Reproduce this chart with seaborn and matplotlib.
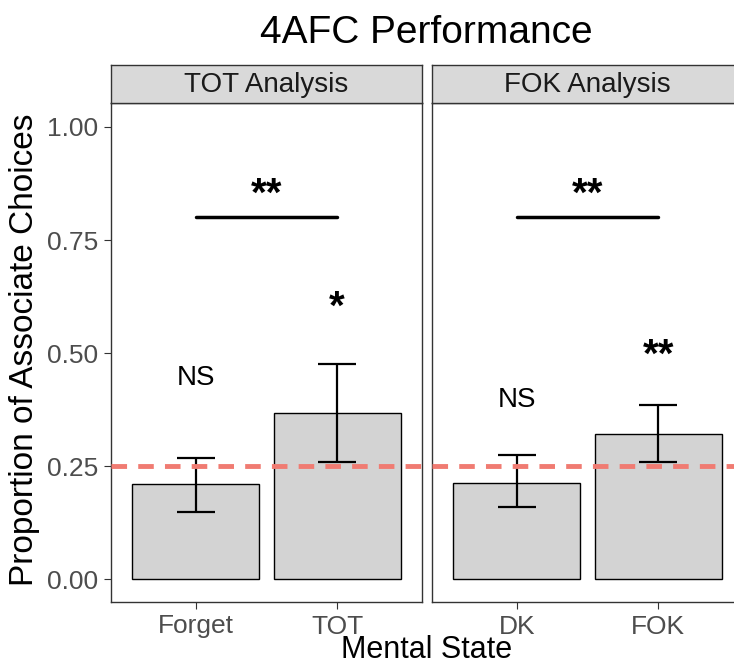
import matplotlib
matplotlib.use("Agg")
import matplotlib.pyplot as plt
import pandas as pd
import seaborn as sns

# ---------- data ----------
panels = ["TOT Analysis", "FOK Analysis"]
states = [["Forget", "TOT"], ["DK", "FOK"]]
means = [[0.210, 0.367], [0.214, 0.321]]
ci_low = [[0.150, 0.260], [0.159, 0.260]]
ci_high = [[0.269, 0.475], [0.274, 0.386]]
bar_labels = [["NS", "*"], ["NS", "**"]]
label_y = [[0.445, 0.60], [0.396, 0.495]]
pair_label = "**"
pair_y = 0.80
chance = 0.25
yticks = [0.00, 0.25, 0.50, 0.75, 1.00]

sns.set_style("white")
plt.rcParams["font.family"] = ["Liberation Sans", "DejaVu Sans"]
plt.rcParams["text.color"] = "black"

W, H = 734, 668
fig = plt.figure(figsize=(W / 100, H / 100), dpi=100)

panel_x = [(111, 422), (432, 743)]
top, bottom = 103, 602
strip_top = 65

for i, (x0, x1) in enumerate(panel_x):
    ax = fig.add_axes([x0 / W, 1 - bottom / H, (x1 - x0) / W, (bottom - top) / H])
    df = pd.DataFrame({"state": states[i], "mean": means[i]})
    sns.barplot(data=df, x="state", y="mean", color="#D3D3D3", width=0.9,
                edgecolor="black", linewidth=1.0, saturation=1, errorbar=None, ax=ax)
    lo = [m - l for m, l in zip(means[i], ci_low[i])]
    hi = [h - m for m, h in zip(means[i], ci_high[i])]
    ax.errorbar(range(2), means[i], yerr=[lo, hi], fmt="none", ecolor="black",
                elinewidth=1.6, capsize=14, capthick=1.6, zorder=4)
    ax.axhline(chance, color="#F07B72", lw=3.5, ls=(0, (3.2, 2.3)), zorder=5)
    for j in range(2):
        star = "*" in bar_labels[i][j]
        ax.text(j, label_y[i][j], bar_labels[i][j], ha="center", va="center",
                fontsize=29 if star else 20, fontweight="bold" if star else "normal")
    ax.plot([0, 1], [pair_y, pair_y], color="black", lw=2.5)
    ax.text(0.5, pair_y + 0.05, pair_label, ha="center", va="center",
            fontsize=29, fontweight="bold")
    ax.set_xlim(-0.6, 1.6)
    ax.set_ylim(-0.05, 1.053)
    ax.set_xlabel("")
    ax.set_ylabel("")
    ax.tick_params(axis="both", length=5, width=0.8, color="#333333", pad=4,
                   labelsize=19, labelcolor="#4D4D4D", bottom=True, left=(i == 0))
    ax.set_yticks(yticks)
    if i == 0:
        ax.set_yticklabels([f"{t:.2f}" for t in yticks])
    else:
        ax.set_yticklabels([])
    for s in ax.spines.values():
        s.set_color("#333333")
        s.set_linewidth(1.0)

    # strip
    sax = fig.add_axes([x0 / W, 1 - top / H, (x1 - x0) / W, (top - strip_top) / H])
    sax.set_facecolor("#D9D9D9")
    sax.set_xticks([])
    sax.set_yticks([])
    for s in sax.spines.values():
        s.set_color("#333333")
        s.set_linewidth(1.0)
    sax.text(0.5, 0.48, panels[i], ha="center", va="center", fontsize=20,
             color="#1A1A1A", transform=sax.transAxes)

fig.text(426 / W, 1 - 33 / H, "4AFC Performance", ha="center", va="center", fontsize=28)
fig.text(427 / W, 1 - 650 / H, "Mental State", ha="center", va="center", fontsize=22)
fig.text(25 / W, 1 - 350 / H, "Proportion of Associate Choices", ha="center",
         va="center", rotation=90, fontsize=24)

fig.savefig("out.png", dpi=100)
